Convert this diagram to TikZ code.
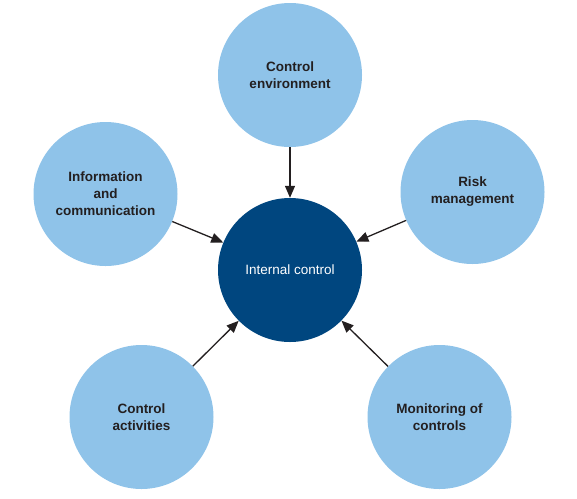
\documentclass[tikz,border=0pt]{standalone}
\usepackage{fontspec}
\setmainfont{Liberation Sans}
\usetikzlibrary{arrows.meta}

\definecolor{lightblue}{RGB}{143,195,233}
\definecolor{darkblue}{RGB}{0,70,127}
\definecolor{inkgrey}{RGB}{35,31,32}

\begin{document}
\begin{tikzpicture}[
  x=1pt, y=-1pt,
  font=\fontsize{13.5}{17}\selectfont,
  part/.style={circle, fill=lightblue, minimum size=144pt, inner sep=0pt,
    align=center, text=inkgrey, font=\fontsize{13.5}{17}\selectfont\bfseries},
  core/.style={circle, fill=darkblue, minimum size=144pt, inner sep=0pt,
    align=center, text=white},
  arr/.style={-{Triangle[length=12pt, width=10pt]}, line width=1.3pt, draw=inkgrey}
]
\useasboundingbox (0,0) rectangle (577,498);
\node[core] (ic) at (290,270) {Internal control};
\node[part] (env) at (290,75) {Control\\environment};
\node[part] (info) at (105.5,194) {Information\\and\\communication};
\node[part] (risk) at (472.5,192) {Risk\\management};
\node[part] (act) at (141.5,417) {Control\\activities};
\node[part] (mon) at (439.5,417) {Monitoring of\\controls};
\draw[arr] (env) -- (ic);
\draw[arr] (info) -- (ic);
\draw[arr] (risk) -- (ic);
\draw[arr] (act) -- (ic);
\draw[arr] (mon) -- (ic);
\end{tikzpicture}
\end{document}
